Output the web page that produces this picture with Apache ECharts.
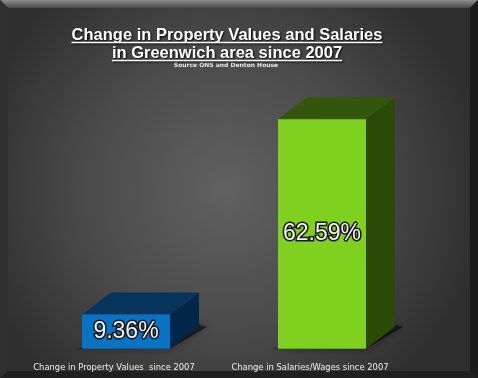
<!DOCTYPE html>
<html><head><meta charset="utf-8">
<script src="https://cdn.jsdelivr.net/npm/echarts@6/dist/echarts.min.js"></script>
<style>html,body{margin:0;padding:0;background:#333;}#c{width:478px;height:378px;}</style>
</head><body><div id="c"></div>
<script>
const categories = ['Change in Property Values  since 2007', 'Change in Salaries/Wages since 2007'];
const values = [9.36, 62.59];
const frontColors = ['#0872c4', '#80d11f'];
const topColors = ['#06345c', '#34560c'];
const sideColors = ['#012647', '#2b4a08'];
const titleLines = ['Change in Property Values and Salaries', 'in Greenwich area since 2007'];
const subTitle = 'Source ONS and Denton House';

const W = 478, H = 378;
const chart = echarts.init(document.getElementById('c'), null, {renderer: 'canvas'});

const titleFont = 'bold 16.5px "Liberation Sans"';
const ctx = document.createElement('canvas').getContext('2d');
ctx.font = titleFont;
const cx = 227;
const lineYs = [35, 53];
const underlines = titleLines.map((t, i) => {
  const w = ctx.measureText(t).width;
  return {type: 'line', shape: {x1: cx - w / 2, y1: lineYs[i] + 7.5, x2: cx + w / 2, y2: lineYs[i] + 7.5},
    style: {stroke: '#ffffff', lineWidth: 1.4, shadowColor: 'rgba(0,0,0,0.8)', shadowBlur: 2, shadowOffsetX: 1, shadowOffsetY: 1}, z: 10};
});

const bevel = [
  {type: 'rect', shape: {x: 0, y: 0, width: W, height: H}, style: {fill: '#1c1c1c'}, z: -10},
  {type: 'polygon', shape: {points: [[0,0],[W,0],[W-8,8],[8,8]]},
    style: {fill: new echarts.graphic.LinearGradient(0,0,0,1,[{offset:0,color:'#8c8c8c'},{offset:1,color:'#4a4a4a'}])}, z: -9},
  {type: 'polygon', shape: {points: [[0,0],[8,8],[8,H-7],[0,H]]}, style: {fill: '#303030'}, z: -9},
  {type: 'polygon', shape: {points: [[W,0],[W-8,8],[W-8,H-7],[W,H]]}, style: {fill: '#1a1a1a'}, z: -9},
  {type: 'polygon', shape: {points: [[0,H],[8,H-7],[W-8,H-7],[W,H]]}, style: {fill: '#202020'}, z: -9},
  {type: 'rect', shape: {x: 8, y: 8, width: W-16, height: H-15},
    style: {fill: new echarts.graphic.RadialGradient(0.47, 0.5, 0.72, [{offset:0,color:'#616161'},{offset:0.55,color:'#4a4a4a'},{offset:1,color:'#2e2e2e'}])}, z: -8}
];

const titleTexts = titleLines.map((t, i) => ({
  type: 'text', x: cx, y: lineYs[i], z: 10,
  style: {text: t, font: titleFont, fill: '#ffffff', align: 'center', verticalAlign: 'middle',
    textShadowColor: 'rgba(0,0,0,0.9)', textShadowBlur: 2, textShadowOffsetX: 1, textShadowOffsetY: 1}
}));
titleTexts.push({type: 'text', x: 226, y: 65, z: 10,
  style: {text: subTitle, font: 'bold 6px "DejaVu Sans"', fill: '#e8e8e8', align: 'center', verticalAlign: 'middle'}});

const option = {
  animation: false,
  graphic: bevel.concat(titleTexts, underlines),
  grid: {left: 28, right: 58, top: 92, bottom: 29.3},
  xAxis: {type: 'category', data: categories, axisLine: {show: false}, axisTick: {show: false},
    axisLabel: {color: '#f0f0f0', fontSize: 8.4, fontFamily: 'DejaVu Sans', margin: 15, padding: [0, 24, 0, 0], interval: 0}},
  yAxis: {type: 'value', min: 0, max: 70, show: false, splitLine: {show: false}},
  series: [{
    type: 'custom',
    data: values.map((v, i) => [i, v]),
    renderItem: function (params, api) {
      const i = api.value(0);
      const top = api.coord([i, api.value(1)]);
      const base = api.coord([i, 0]);
      const w = 88, dx = 29, dy = -22;
      const x0 = top[0] - w / 2, x1 = top[0] + w / 2, yt = top[1], yb = base[1];
      return {type: 'group', children: [
        {type: 'polygon', shape: {points: [[x0 - 6, yb], [x1, yb], [x1 + dx + 8, yb + dy], [x1 + dx, yb + dy - 2]]},
          style: {fill: 'rgba(0,0,0,0.55)', shadowColor: 'rgba(0,0,0,0.7)', shadowBlur: 8}},
        {type: 'polygon', shape: {points: [[x1, yt], [x1 + dx, yt + dy], [x1 + dx, yb + dy], [x1, yb]]},
          style: {fill: sideColors[i]}},
        {type: 'polygon', shape: {points: [[x0, yt], [x0 + dx, yt + dy], [x1 + dx, yt + dy], [x1, yt]]},
          style: {fill: topColors[i]}},
        {type: 'rect', shape: {x: x0, y: yt, width: w, height: yb - yt}, style: {fill: frontColors[i]}},
        {type: 'text', x: top[0], y: (yt + yb) / 2,
          style: {text: api.value(1).toFixed(2) + '%', font: '23px "Liberation Sans"', fill: '#f2f2f2',
            stroke: '#151515', lineWidth: 3, align: 'center', verticalAlign: 'middle'}}
      ]};
    }
  }]
};
chart.setOption(option);
</script></body></html>
